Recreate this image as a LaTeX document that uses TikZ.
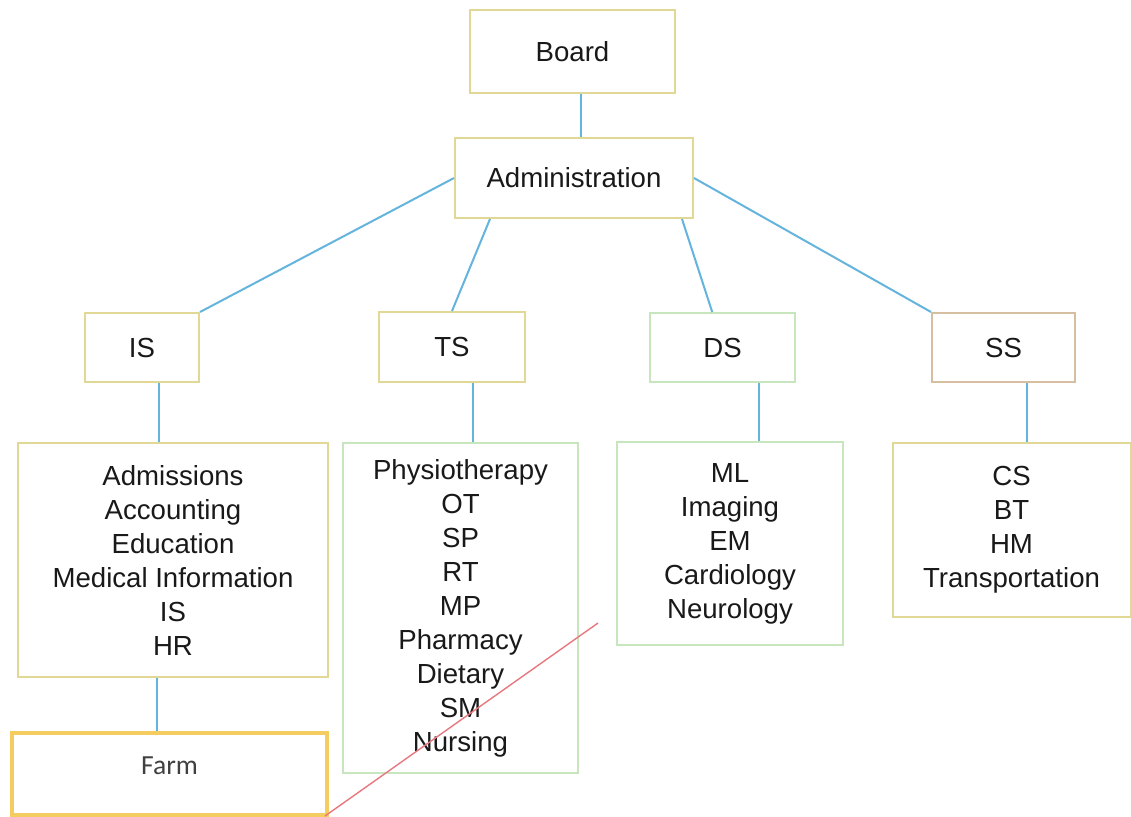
\documentclass[tikz,border=0pt]{standalone}
\usepackage{fontspec}
\setmainfont{Liberation Sans}
\newfontfamily\farmfont{Carlito}
\usetikzlibrary{positioning}
\usetikzlibrary{calc}

\definecolor{linkblue}{RGB}{100,180,222}
\definecolor{boxedge}{RGB}{226,216,150}
\definecolor{tanedge}{RGB}{214,190,160}
\definecolor{greenedge}{RGB}{200,230,190}
\definecolor{farmedge}{RGB}{244,204,96}
\definecolor{scratchred}{RGB}{232,120,128}
\definecolor{inktext}{RGB}{25,25,25}

\begin{document}
\begin{tikzpicture}[ x = 0.5pt, y = -0.5pt
                   , font = \fontsize{13.8}{17}\selectfont
                   , every node/.style = { rectangle
                                       , draw = boxedge
                                       , line width = 1pt
                                       , align = center
                                       , text = inktext
                                       , inner sep = 0pt }
                   , boxsize/.style 2 args = { minimum width = #1*0.5pt
                                             , minimum height = #2*0.5pt }
                   ]

  \useasboundingbox[fill=white] (0,0) rectangle (1131,816);

  %%
  %% Nodes
  %%
  \tikzset{ tanbox/.style={draw=tanedge}
          , palebox/.style={draw=greenedge}
          , farmbox/.style={ draw=farmedge, line width=1.6pt, text=black!75
                           , text depth=8pt
                           , font=\farmfont\fontsize{13.8}{17}\selectfont }
          , link/.style={draw=linkblue, line width=1pt}
          , scratch/.style={draw=scratchred, line width=0.7pt}
          }

  \node (board) [boxsize={205}{83}] at (572.5,51.5) {Board};
  \node (admin) [boxsize={238}{80}] at (574,178) {Administration};
  \node (is) [boxsize={114}{69}] at (142,347.5) {IS};
  \node (ts) [boxsize={146}{70}] at (452,347) {TS};
  \node (ds) [palebox, boxsize={145}{69}] at (722.5,347.5) {DS};
  \node (ss) [tanbox, boxsize={143}{69}] at (1003.5,347.5) {SS};
  \node (islist) [boxsize={310}{234}] at (173,560)
        {Admissions\\ Accounting\\ Education\\ Medical Information\\ IS\\ HR};
  \node (tslist) [palebox, boxsize={235}{330}] at (460.5,608)
        {Physiotherapy\\ OT\\ SP\\ RT\\ MP\\ Pharmacy\\ Dietary\\ SM\\ Nursing};
  \node (dslist) [palebox, boxsize={226}{203}] at (730,543.5)
        {ML\\ Imaging\\ EM\\ Cardiology\\ Neurology};
  \node (sslist) [boxsize={238}{174}] at (1011.5,530)
        {CS\\ BT\\ HM\\ Transportation};
  \node (farm) [farmbox, boxsize={315}{82}] at (169.5,774) {Farm};

  %%
  %% Relationship between nodes (lines)
  %%
  % Board and administration.
  \draw[link] ([xshift=4pt]board.south) -- ([xshift=4pt]board.south |- admin.north);
  % Slanted lines.
  \draw[link] (admin.west) -- (is.north east);
  \draw[link] ($(admin.south west)!0.15!(admin.south east)$) -- (ts.north);
  \draw[link] ($(admin.south west)!0.95!(admin.south east)$)
              -- ($(ds.north west)!0.43!(ds.north east)$);
  \draw[link] (admin.east) -- (ss.north west);
  % Vertical lines.
  \draw[link] ($(is.south west)!0.65!(is.south east)$) coordinate (isdrop)
              -- (isdrop |- islist.north);
  \draw[link] ($(ts.south west)!0.64!(ts.south east)$) coordinate (tsdrop)
              -- (tsdrop |- tslist.north);
  \draw[link] ($(ds.south west)!0.745!(ds.south east)$) coordinate (dsdrop)
              -- (dsdrop |- dslist.north);
  \draw[link] ($(ss.south west)!0.664!(ss.south east)$) coordinate (ssdrop)
              -- (ssdrop |- sslist.north);
  \draw[link] ($(islist.south west)!0.45!(islist.south east)$) coordinate (farmdrop)
              -- (farmdrop |- farm.north);

  % Red stroke across the therapy list.
  \coordinate (scratchtop) at (598,623);
  \coordinate (scratchend) at (325,816);
  \draw[scratch] (scratchtop) -- (scratchend);
\end{tikzpicture}
\end{document}
